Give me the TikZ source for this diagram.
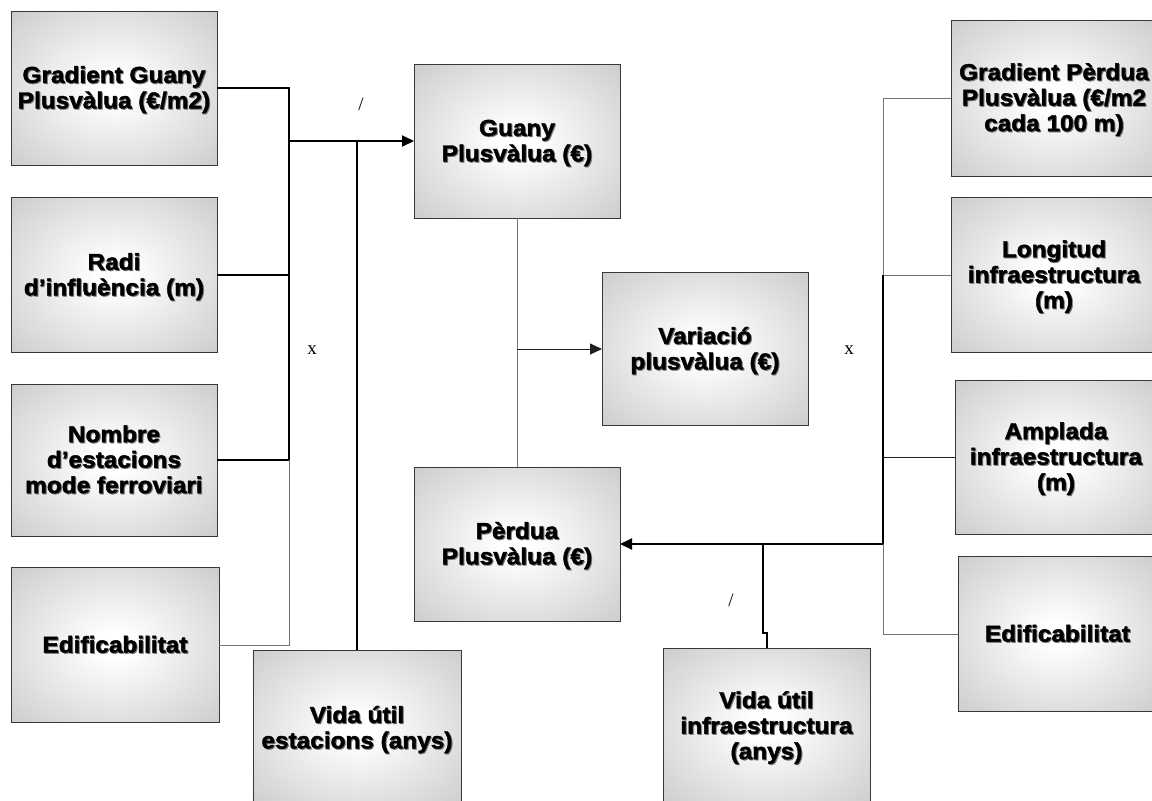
\documentclass[tikz,border=0pt]{standalone}
\usepackage{fontspec}
\setmainfont{Liberation Serif}
\newfontfamily\boxfont[FakeBold=1.8,FakeStretch=1.06]{Liberation Sans Bold}
\usetikzlibrary{arrows.meta}

% light centre fading to grey towards the edges of each box
\pgfdeclareradialshading{boxshade}{\pgfpoint{0bp}{0bp}}{%
  color(0bp)=(white); color(4bp)=(white);
  color(44bp)=(black!25); color(72bp)=(black!27)}

% centred lines of box text with a soft grey drop shadow
\newcommand\shtext[1]{\leavevmode\raisebox{-3pt}[\height][\depth]{%
  \rlap{\kern1pt\raisebox{-1pt}{\color{black!55}%
    \begin{tabular}[b]{@{}c@{}}#1\end{tabular}}}%
  \begin{tabular}[b]{@{}c@{}}#1\end{tabular}}}

\begin{document}
\begin{tikzpicture}[x=1pt,y=-1pt,
  box/.style={draw=black!78, line width=1pt, shade, shading=boxshade,
    inner sep=0pt, outer sep=0pt, align=center,
    font=\boxfont\fontsize{23}{25.5}\selectfont},
  thk/.style={line width=2pt, black},
  grayline/.style={line width=1pt, black!55},
  darkline/.style={line width=1pt, black!88},
  arr/.style={-{Triangle[length=12pt,width=11pt]}},
  op/.style={font=\fontsize{19}{19}\selectfont}]

\useasboundingbox (0,0) rectangle (1152,801);

% input boxes, left side
\node[box, minimum width=206pt, minimum height=154pt] (gg) at (114,88)
  {\shtext{Gradient Guany\\Plusvàlua (€/m2)}};
\node[box, minimum width=206pt, minimum height=155pt] (radi) at (114,275)
  {\shtext{Radi\\d’influència (m)}};
\node[box, minimum width=206pt, minimum height=152pt] (nombre) at (114,460)
  {\shtext{Nombre\\d’estacions\\mode ferroviari}};
\node[box, minimum width=208pt, minimum height=155pt] (edifL) at (115,645)
  {\shtext{Edificabilitat}};
\node[box, minimum width=208pt, minimum height=156pt] (vidaEst) at (357,728)
  {\shtext{Vida útil\\estacions (anys)}};

% results in the middle
\node[box, minimum width=206pt, minimum height=154pt] (guany) at (517,141)
  {\shtext{Guany\\Plusvàlua (€)}};
\node[box, minimum width=206pt, minimum height=153pt] (variacio) at (705,349)
  {\shtext{Variació\\plusvàlua (€)}};
\node[box, minimum width=206pt, minimum height=154pt] (perdua) at (517,544)
  {\shtext{Pèrdua\\Plusvàlua (€)}};

% input boxes, right side
\node[box, minimum width=207pt, minimum height=156pt] (vidaInfra) at (766.5,726)
  {\shtext{Vida útil\\infraestructura\\(anys)}};
\node[box, minimum width=206pt, minimum height=156pt] (gp) at (1054,98)
  {\shtext{Gradient Pèrdua\\Plusvàlua (€/m2\\cada 100 m)}};
\node[box, minimum width=206pt, minimum height=155pt] (longitud) at (1054,275)
  {\shtext{Longitud\\infraestructura\\(m)}};
\node[box, minimum width=202pt, minimum height=154pt] (amplada) at (1056,457)
  {\shtext{Amplada\\infraestructura\\(m)}};
\node[box, minimum width=199pt, minimum height=155pt] (edifR) at (1057.5,634)
  {\shtext{Edificabilitat}};

% junction points
\coordinate (jL)  at (289,141);
\coordinate (jLn) at (289,460);
\coordinate (jV)  at (357,141);
\coordinate (jC)  at (517,349);
\coordinate (jRt) at (883,275);
\coordinate (jR)  at (883,544);
\coordinate (jI)  at (763,544);
\coordinate (jIb) at (763,633);

% left network: gain
\draw[thk] (gg.east) -| (jL);
\draw[thk, arr] (jL) -- (guany.west);
\draw[thk] (jL) -- (jLn);
\draw[thk] (radi.east) -- (radi.east -| jL);
\draw[thk] (nombre.east) -- (jLn);
\draw[grayline] (jLn) |- (edifL.east);
\draw[thk] (jV) -- (vidaEst.north);

% middle: gain and loss combined
\draw[grayline] (guany.south) -- (perdua.north);
\draw[darkline, arr] (jC) -- (variacio.west);

% right network: loss
\draw[grayline] (gp.west) -| (jRt);
\draw[grayline] (longitud.west) -- (jRt);
\draw[thk] (jRt) -- (jR);
\draw[thk, arr] (jR) -- (perdua.east);
\draw[darkline] (amplada.west) -- (amplada.west -| jR);
\draw[grayline] (jR) |- (edifR.west);
\draw[thk] (jI) -- (jIb) -| (vidaInfra.north);

% operators
\node[op] (divL) at (361,104) {/};
\node[op] (mulL) at (312,350) {x};
\node[op] (mulR) at (849,350) {x};
\node[op] (divR) at (731,600) {/};
\end{tikzpicture}
\end{document}
